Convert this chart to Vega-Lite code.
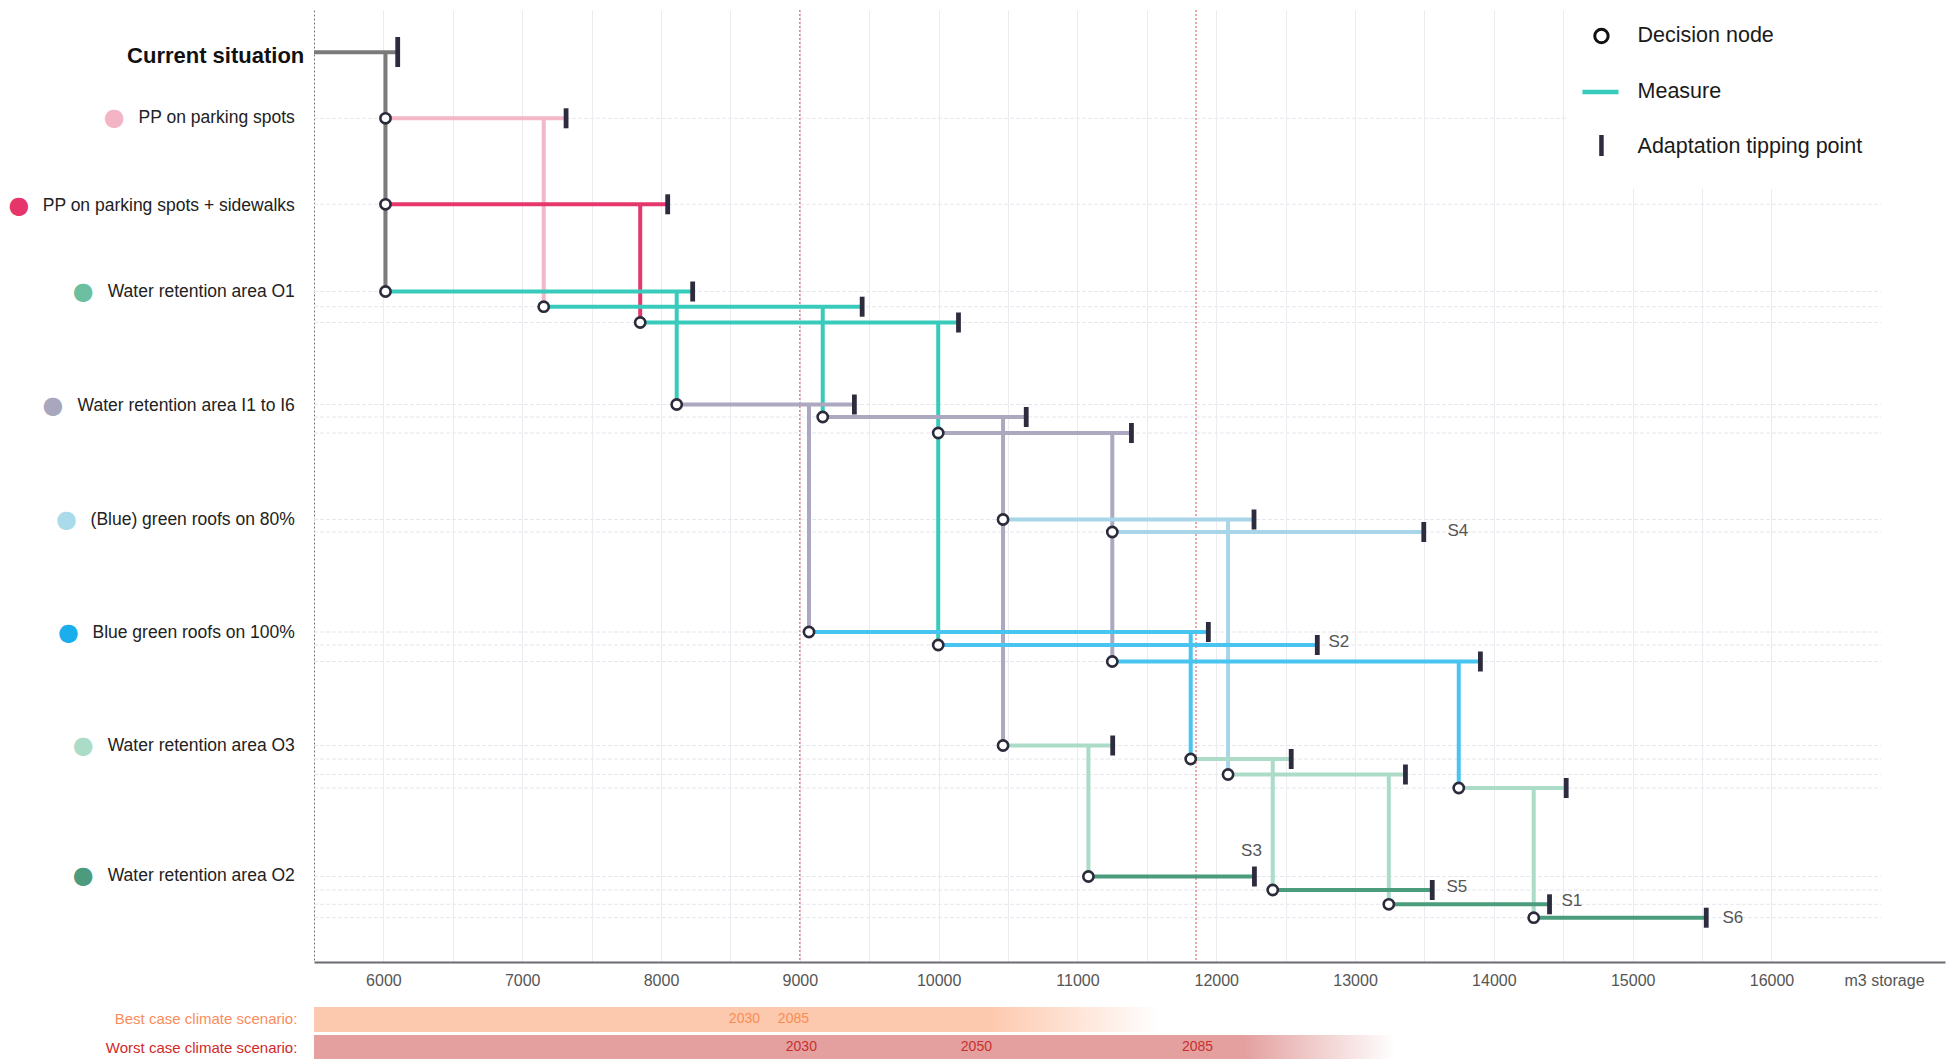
{
  "$schema": "https://vega.github.io/schema/vega-lite/v6.json",
  "width": 1631,
  "height": 952,
  "autosize": {"type": "none"},
  "padding": {"left": 314, "top": 10, "right": 6, "bottom": 97},
  "background": "white",
  "config": {"view": {"stroke": null}, "font": "Liberation Sans"},
  "resolve": {"axis": {"x": "independent", "y": "independent"}},
  "datasets": {
    "gridrows": [
      {"y": 118.3}, {"y": 204.3}, {"y": 291.5}, {"y": 306.7}, {"y": 322.5},
      {"y": 404.5}, {"y": 417}, {"y": 433}, {"y": 519.5}, {"y": 532},
      {"y": 632}, {"y": 645}, {"y": 661.5}, {"y": 745.5}, {"y": 759},
      {"y": 774.5}, {"y": 788}, {"y": 876.5}, {"y": 890}, {"y": 904.3}, {"y": 917.7}
    ],
    "segments": [
      {"k": "cur", "x": 6015, "x2": 6015, "y": 52.3, "y2": 291.5},
      {"k": "pp", "x": 7155, "x2": 7155, "y": 118.3, "y2": 306.7},
      {"k": "ppsw", "x": 7850, "x2": 7850, "y": 204.3, "y2": 322.5},
      {"k": "o1", "x": 8113, "x2": 8113, "y": 291.5, "y2": 404.5},
      {"k": "o1", "x": 9165, "x2": 9165, "y": 306.7, "y2": 417},
      {"k": "o1", "x": 9997, "x2": 9997, "y": 322.5, "y2": 645},
      {"k": "i", "x": 9066, "x2": 9066, "y": 404.5, "y2": 632},
      {"k": "i", "x": 10464, "x2": 10464, "y": 417, "y2": 745.5},
      {"k": "i", "x": 11251, "x2": 11251, "y": 433, "y2": 661.5},
      {"k": "b80", "x": 12085, "x2": 12085, "y": 519.5, "y2": 774.5},
      {"k": "b100", "x": 11816, "x2": 11816, "y": 632, "y2": 759},
      {"k": "b100", "x": 13747, "x2": 13747, "y": 661.5, "y2": 788},
      {"k": "o3", "x": 11079, "x2": 11079, "y": 745.5, "y2": 876.5},
      {"k": "o3", "x": 12407, "x2": 12407, "y": 759, "y2": 890},
      {"k": "o3", "x": 13243, "x2": 13243, "y": 774.5, "y2": 904.3},
      {"k": "o3", "x": 14287, "x2": 14287, "y": 788, "y2": 917.7},
      {"k": "cur", "x": 5500, "x2": 6103, "y": 52.3, "y2": 52.3},
      {"k": "pp", "x": 6015, "x2": 7316, "y": 118.3, "y2": 118.3},
      {"k": "ppsw", "x": 6015, "x2": 8048, "y": 204.3, "y2": 204.3},
      {"k": "o1", "x": 6015, "x2": 8228, "y": 291.5, "y2": 291.5},
      {"k": "o1", "x": 7155, "x2": 9449, "y": 306.7, "y2": 306.7},
      {"k": "o1", "x": 7850, "x2": 10143, "y": 322.5, "y2": 322.5},
      {"k": "i", "x": 8113, "x2": 9393, "y": 404.5, "y2": 404.5},
      {"k": "i", "x": 9165, "x2": 10631, "y": 417, "y2": 417},
      {"k": "i", "x": 9997, "x2": 11389, "y": 433, "y2": 433},
      {"k": "b80", "x": 10464, "x2": 12272, "y": 519.5, "y2": 519.5},
      {"k": "b80", "x": 11251, "x2": 13495, "y": 532, "y2": 532},
      {"k": "b100", "x": 9066, "x2": 11943, "y": 632, "y2": 632},
      {"k": "b100", "x": 9997, "x2": 12728, "y": 645, "y2": 645},
      {"k": "b100", "x": 11251, "x2": 13903, "y": 661.5, "y2": 661.5},
      {"k": "o3", "x": 10464, "x2": 11254, "y": 745.5, "y2": 745.5},
      {"k": "o3", "x": 11816, "x2": 12540, "y": 759, "y2": 759},
      {"k": "o3", "x": 12085, "x2": 13363, "y": 774.5, "y2": 774.5},
      {"k": "o3", "x": 13747, "x2": 14521, "y": 788, "y2": 788},
      {"k": "o2", "x": 11079, "x2": 12275, "y": 876.5, "y2": 876.5},
      {"k": "o2", "x": 12407, "x2": 13556, "y": 890, "y2": 890},
      {"k": "o2", "x": 13243, "x2": 14401, "y": 904.3, "y2": 904.3},
      {"k": "o2", "x": 14287, "x2": 15530, "y": 917.7, "y2": 917.7}
    ],
    "tips": [
      {"x": 7316, "y": 118.3}, {"x": 8048, "y": 204.3}, {"x": 8228, "y": 291.5},
      {"x": 9449, "y": 306.7}, {"x": 10143, "y": 322.5}, {"x": 9393, "y": 404.5},
      {"x": 10631, "y": 417}, {"x": 11389, "y": 433}, {"x": 12272, "y": 519.5},
      {"x": 13495, "y": 532}, {"x": 11943, "y": 632}, {"x": 12728, "y": 645},
      {"x": 13903, "y": 661.5}, {"x": 11254, "y": 745.5}, {"x": 12540, "y": 759},
      {"x": 13363, "y": 774.5}, {"x": 14521, "y": 788}, {"x": 12275, "y": 876.5},
      {"x": 13556, "y": 890}, {"x": 14401, "y": 904.3}, {"x": 15530, "y": 917.7}
    ],
    "nodes": [
      {"x": 6015, "y": 118.3}, {"x": 6015, "y": 204.3}, {"x": 6015, "y": 291.5},
      {"x": 7155, "y": 306.7}, {"x": 7850, "y": 322.5}, {"x": 8113, "y": 404.5},
      {"x": 9165, "y": 417}, {"x": 9997, "y": 433}, {"x": 10464, "y": 519.5},
      {"x": 11251, "y": 532}, {"x": 9066, "y": 632}, {"x": 9997, "y": 645},
      {"x": 11251, "y": 661.5}, {"x": 10464, "y": 745.5}, {"x": 11816, "y": 759},
      {"x": 12085, "y": 774.5}, {"x": 13747, "y": 788}, {"x": 11079, "y": 876.5},
      {"x": 12407, "y": 890}, {"x": 13243, "y": 904.3}, {"x": 14287, "y": 917.7}
    ],
    "labels": [
      {"k": "pp", "label": "PP on parking spots", "y": 118},
      {"k": "ppsw", "label": "PP on parking spots + sidewalks", "y": 205.5},
      {"k": "o1", "label": "Water retention area O1", "y": 292},
      {"k": "i", "label": "Water retention area I1 to I6", "y": 405.5},
      {"k": "b80", "label": "(Blue) green roofs on 80%", "y": 519.5},
      {"k": "b100", "label": "Blue green roofs on 100%", "y": 632.5},
      {"k": "o3", "label": "Water retention area O3", "y": 746},
      {"k": "o2", "label": "Water retention area O2", "y": 875.5}
    ],
    "slabels": [
      {"s": "S4", "x": 13666, "y": 531},
      {"s": "S2", "x": 12808, "y": 642},
      {"s": "S5", "x": 13658, "y": 887},
      {"s": "S1", "x": 14487, "y": 901},
      {"s": "S6", "x": 15647, "y": 918}
    ],
    "bestyears": [{"year": "2030", "x": 8601}, {"year": "2085", "x": 8954}],
    "worstyears": [{"year": "2030", "x": 9011}, {"year": "2050", "x": 10272}, {"year": "2085", "x": 11865}],
    "redlines": [{"x": 9000}, {"x": 11854}]
  },
  "layer": [
    {
      "data": {"name": "gridrows"},
      "mark": {"type": "rule", "color": "#e6e6ee", "strokeWidth": 1, "strokeDash": [4, 2]},
      "encoding": {
        "x": {"datum": 5500, "type": "quantitative", "axis": null, "scale": {"domain": [5500, 17250], "nice": false, "zero": false}},
        "x2": {"datum": 16790},
        "y": {"field": "y", "type": "quantitative", "axis": null, "scale": {"domain": [10, 962], "reverse": true, "nice": false, "zero": false}}
      }
    },
    {
      "data": {"values": [{}]},
      "mark": {"type": "rect", "fill": "white", "stroke": null},
      "encoding": {
        "x": {"datum": 14530, "type": "quantitative", "axis": null, "scale": {"domain": [5500, 17250], "nice": false, "zero": false}},
        "x2": {"datum": 17250},
        "y": {"datum": 10, "type": "quantitative", "axis": null, "scale": {"domain": [10, 962], "reverse": true, "nice": false, "zero": false}},
        "y2": {"datum": 189}
      }
    },
    {
      "data": {"name": "redlines"},
      "mark": {"type": "rule", "color": "#e24a4a", "strokeWidth": 1, "strokeDash": [2, 2]},
      "encoding": {
        "x": {"field": "x", "type": "quantitative", "axis": null, "scale": {"domain": [5500, 17250], "nice": false, "zero": false}},
        "y": {"datum": 10, "type": "quantitative", "axis": null, "scale": {"domain": [10, 962], "reverse": true, "nice": false, "zero": false}},
        "y2": {"datum": 962}
      }
    },
    {
      "data": {"name": "segments"},
      "mark": {"type": "rule", "strokeWidth": 4, "strokeCap": "butt"},
      "encoding": {
        "x": {"field": "x", "type": "quantitative", "title": null,
          "scale": {"domain": [5500, 17250], "nice": false, "zero": false},
          "axis": {"values": [6000, 6500, 7000, 7500, 8000, 8500, 9000, 9500, 10000, 10500, 11000, 11500, 12000, 12500, 13000, 13500, 14000, 14500, 15000, 15500, 16000],
            "format": "d", "labelExpr": "datum.value % 1000 === 0 ? datum.label : ''",
            "grid": true, "gridColor": "#ebebf1", "gridWidth": 1, "ticks": false,
            "domainColor": "#6a6a74", "domainWidth": 2, "labelFontSize": 16, "labelColor": "#555555",
            "labelPadding": 10, "labelOverlap": false, "labelFont": "Liberation Sans", "zindex": 0}},
        "x2": {"field": "x2"},
        "y": {"field": "y", "type": "quantitative", "title": null,
          "scale": {"domain": [10, 962], "reverse": true, "nice": false, "zero": false},
          "axis": {"grid": false, "ticks": false, "labels": false, "domainColor": "#777777", "domainDash": [2, 2], "domainWidth": 1, "zindex": 0}},
        "y2": {"field": "y2"},
        "color": {"field": "k", "type": "nominal", "legend": null,
          "scale": {"domain": ["cur", "pp", "ppsw", "o1", "i", "b80", "b100", "o3", "o2"],
            "range": ["#7b7b7b", "#f4b7c7", "#e5376c", "#38cbbb", "#aba8c0", "#a8d6e8", "#48c4f0", "#acdbc8", "#4b9c7d"]}}
      }
    },
    {
      "data": {"name": "tips"},
      "mark": {"type": "tick", "orient": "vertical", "size": 20, "thickness": 4.8, "color": "#2c2c3e", "opacity": 1},
      "encoding": {
        "x": {"field": "x", "type": "quantitative", "axis": null, "scale": {"domain": [5500, 17250], "nice": false, "zero": false}},
        "y": {"field": "y", "type": "quantitative", "axis": null, "scale": {"domain": [10, 962], "reverse": true, "nice": false, "zero": false}}
      }
    },
    {
      "data": {"values": [{}]},
      "mark": {"type": "tick", "orient": "vertical", "size": 30, "thickness": 4.8, "color": "#2c2c3e", "opacity": 1},
      "encoding": {
        "x": {"datum": 6103, "type": "quantitative", "axis": null, "scale": {"domain": [5500, 17250], "nice": false, "zero": false}},
        "y": {"datum": 52, "type": "quantitative", "axis": null, "scale": {"domain": [10, 962], "reverse": true, "nice": false, "zero": false}}
      }
    },
    {
      "data": {"name": "nodes"},
      "mark": {"type": "point", "shape": "circle", "filled": false, "fill": "white", "fillOpacity": 1, "stroke": "#2b2b3b", "strokeWidth": 2.6, "size": 105, "opacity": 1},
      "encoding": {
        "x": {"field": "x", "type": "quantitative", "axis": null, "scale": {"domain": [5500, 17250], "nice": false, "zero": false}},
        "y": {"field": "y", "type": "quantitative", "axis": null, "scale": {"domain": [10, 962], "reverse": true, "nice": false, "zero": false}}
      }
    },
    {
      "data": {"name": "labels"},
      "mark": {"type": "text", "align": "right", "baseline": "middle", "fontSize": 17.5, "color": "#222222", "font": "Liberation Sans"},
      "encoding": {
        "x": {"datum": 5362, "type": "quantitative", "axis": null, "scale": {"domain": [5500, 17250], "nice": false, "zero": false}},
        "y": {"field": "y", "type": "quantitative", "axis": null, "scale": {"domain": [10, 962], "reverse": true, "nice": false, "zero": false}},
        "text": {"field": "label"}
      }
    },
    {
      "data": {"name": "labels"},
      "mark": {"type": "text", "text": "●", "align": "center", "baseline": "middle", "fontSize": 24, "font": "DejaVu Sans",
        "dx": {"expr": "-(17.5 * (0.556*length(datum.label) - 0.334*(length(datum.label)-length(replace(datum.label,/[ilj]/g,''))) - 0.278*(length(datum.label)-length(replace(datum.label,/[ Itf]/g,''))) - 0.223*(length(datum.label)-length(replace(datum.label,/[r()]/g,''))) - 0.056*(length(datum.label)-length(replace(datum.label,/[kscvxyz]/g,''))) + 0.111*(length(datum.label)-length(replace(datum.label,/[PBES]/g,''))) + 0.166*(length(datum.label)-length(replace(datum.label,/[wCDHNRU]/g,''))) + 0.222*(length(datum.label)-length(replace(datum.label,/O/g,''))) + 0.277*(length(datum.label)-length(replace(datum.label,/m/g,''))) + 0.333*(length(datum.label)-length(replace(datum.label,/%/g,''))) + 0.388*(length(datum.label)-length(replace(datum.label,/W/g,'')))) + 24)"}},
      "encoding": {
        "x": {"datum": 5362, "type": "quantitative", "axis": null, "scale": {"domain": [5500, 17250], "nice": false, "zero": false}},
        "y": {"field": "y", "type": "quantitative", "axis": null, "scale": {"domain": [10, 962], "reverse": true, "nice": false, "zero": false}},
        "fill": {"field": "k", "type": "nominal", "legend": null,
          "scale": {"domain": ["pp", "ppsw", "o1", "i", "b80", "b100", "o3", "o2"],
            "range": ["#f3b5c6", "#e5356b", "#6cc0a1", "#a9a7bd", "#a9dbea", "#1aafec", "#abdcc8", "#4d9b7d"]}}
      }
    },
    {
      "data": {"values": [{}]},
      "mark": {"type": "text", "text": "Current situation", "align": "right", "baseline": "middle", "fontSize": 22, "fontWeight": "bold", "color": "#111111", "font": "Liberation Sans"},
      "encoding": {
        "x": {"datum": 5430, "type": "quantitative", "axis": null, "scale": {"domain": [5500, 17250], "nice": false, "zero": false}},
        "y": {"datum": 56, "type": "quantitative", "axis": null, "scale": {"domain": [10, 962], "reverse": true, "nice": false, "zero": false}}
      }
    },
    {
      "data": {"name": "slabels"},
      "mark": {"type": "text", "align": "left", "baseline": "middle", "fontSize": 17, "color": "#555555", "font": "Liberation Sans"},
      "encoding": {
        "x": {"field": "x", "type": "quantitative", "axis": null, "scale": {"domain": [5500, 17250], "nice": false, "zero": false}},
        "y": {"field": "y", "type": "quantitative", "axis": null, "scale": {"domain": [10, 962], "reverse": true, "nice": false, "zero": false}},
        "text": {"field": "s"}
      }
    },
    {
      "data": {"values": [{}]},
      "mark": {"type": "text", "text": "S3", "align": "center", "baseline": "middle", "fontSize": 17, "color": "#555555", "font": "Liberation Sans"},
      "encoding": {
        "x": {"datum": 12254, "type": "quantitative", "axis": null, "scale": {"domain": [5500, 17250], "nice": false, "zero": false}},
        "y": {"datum": 851, "type": "quantitative", "axis": null, "scale": {"domain": [10, 962], "reverse": true, "nice": false, "zero": false}}
      }
    },
    {
      "data": {"values": [{}]},
      "mark": {"type": "text", "text": "m3 storage", "align": "left", "baseline": "middle", "fontSize": 16, "color": "#555555", "font": "Liberation Sans"},
      "encoding": {
        "x": {"datum": 16526, "type": "quantitative", "axis": null, "scale": {"domain": [5500, 17250], "nice": false, "zero": false}},
        "y": {"datum": 981, "type": "quantitative", "axis": null, "scale": {"domain": [10, 962], "reverse": true, "nice": false, "zero": false}}
      }
    },
    {
      "data": {"values": [{}]},
      "mark": {"type": "rect", "stroke": null,
        "fill": {"gradient": "linear", "x1": 0, "x2": 1, "y1": 0, "y2": 0,
          "stops": [{"offset": 0, "color": "#fdc9ae"}, {"offset": 0.8, "color": "#fdc9ae"}, {"offset": 1, "color": "#ffffff"}]}},
      "encoding": {
        "x": {"datum": 5500, "type": "quantitative", "axis": null, "scale": {"domain": [5500, 17250], "nice": false, "zero": false}},
        "x2": {"datum": 11598},
        "y": {"datum": 1007, "type": "quantitative", "axis": null, "scale": {"domain": [10, 962], "reverse": true, "nice": false, "zero": false}},
        "y2": {"datum": 1032}
      }
    },
    {
      "data": {"values": [{}]},
      "mark": {"type": "rect", "stroke": null,
        "fill": {"gradient": "linear", "x1": 0, "x2": 1, "y1": 0, "y2": 0,
          "stops": [{"offset": 0, "color": "#e3a09f"}, {"offset": 0.86, "color": "#e3a09f"}, {"offset": 1, "color": "#ffffff"}]}},
      "encoding": {
        "x": {"datum": 5500, "type": "quantitative", "axis": null, "scale": {"domain": [5500, 17250], "nice": false, "zero": false}},
        "x2": {"datum": 13291},
        "y": {"datum": 1035, "type": "quantitative", "axis": null, "scale": {"domain": [10, 962], "reverse": true, "nice": false, "zero": false}},
        "y2": {"datum": 1059}
      }
    },
    {
      "data": {"name": "bestyears"},
      "mark": {"type": "text", "align": "center", "baseline": "middle", "fontSize": 14, "color": "#f98c55", "font": "Liberation Sans"},
      "encoding": {
        "x": {"field": "x", "type": "quantitative", "axis": null, "scale": {"domain": [5500, 17250], "nice": false, "zero": false}},
        "y": {"datum": 1019, "type": "quantitative", "axis": null, "scale": {"domain": [10, 962], "reverse": true, "nice": false, "zero": false}},
        "text": {"field": "year"}
      }
    },
    {
      "data": {"name": "worstyears"},
      "mark": {"type": "text", "align": "center", "baseline": "middle", "fontSize": 14, "color": "#c8302f", "font": "Liberation Sans"},
      "encoding": {
        "x": {"field": "x", "type": "quantitative", "axis": null, "scale": {"domain": [5500, 17250], "nice": false, "zero": false}},
        "y": {"datum": 1047, "type": "quantitative", "axis": null, "scale": {"domain": [10, 962], "reverse": true, "nice": false, "zero": false}},
        "text": {"field": "year"}
      }
    },
    {
      "data": {"values": [{}]},
      "mark": {"type": "text", "text": "Best case climate scenario:", "align": "right", "baseline": "middle", "fontSize": 15, "color": "#fa8c5c", "font": "Liberation Sans"},
      "encoding": {
        "x": {"datum": 5380, "type": "quantitative", "axis": null, "scale": {"domain": [5500, 17250], "nice": false, "zero": false}},
        "y": {"datum": 1019, "type": "quantitative", "axis": null, "scale": {"domain": [10, 962], "reverse": true, "nice": false, "zero": false}}
      }
    },
    {
      "data": {"values": [{}]},
      "mark": {"type": "text", "text": "Worst case climate scenario:", "align": "right", "baseline": "middle", "fontSize": 15, "color": "#d02a2a", "font": "Liberation Sans"},
      "encoding": {
        "x": {"datum": 5380, "type": "quantitative", "axis": null, "scale": {"domain": [5500, 17250], "nice": false, "zero": false}},
        "y": {"datum": 1048, "type": "quantitative", "axis": null, "scale": {"domain": [10, 962], "reverse": true, "nice": false, "zero": false}}
      }
    },
    {
      "data": {"values": [{}]},
      "mark": {"type": "point", "shape": "circle", "filled": false, "fill": "white", "fillOpacity": 1, "stroke": "#111111", "strokeWidth": 3, "size": 180, "opacity": 1},
      "encoding": {
        "x": {"datum": 14775, "type": "quantitative", "axis": null, "scale": {"domain": [5500, 17250], "nice": false, "zero": false}},
        "y": {"datum": 36, "type": "quantitative", "axis": null, "scale": {"domain": [10, 962], "reverse": true, "nice": false, "zero": false}}
      }
    },
    {
      "data": {"values": [{}]},
      "mark": {"type": "rule", "color": "#38cbbb", "strokeWidth": 4.5},
      "encoding": {
        "x": {"datum": 14638, "type": "quantitative", "axis": null, "scale": {"domain": [5500, 17250], "nice": false, "zero": false}},
        "x2": {"datum": 14898},
        "y": {"datum": 92, "type": "quantitative", "axis": null, "scale": {"domain": [10, 962], "reverse": true, "nice": false, "zero": false}}
      }
    },
    {
      "data": {"values": [{}]},
      "mark": {"type": "tick", "orient": "vertical", "size": 21, "thickness": 4.5, "color": "#2c2c3e", "opacity": 1},
      "encoding": {
        "x": {"datum": 14775, "type": "quantitative", "axis": null, "scale": {"domain": [5500, 17250], "nice": false, "zero": false}},
        "y": {"datum": 145.5, "type": "quantitative", "axis": null, "scale": {"domain": [10, 962], "reverse": true, "nice": false, "zero": false}}
      }
    },
    {
      "data": {"values": [{}]},
      "mark": {"type": "text", "text": "Decision node", "align": "left", "baseline": "middle", "fontSize": 21.5, "color": "#1a1a1a", "font": "Liberation Sans"},
      "encoding": {
        "x": {"datum": 15035, "type": "quantitative", "axis": null, "scale": {"domain": [5500, 17250], "nice": false, "zero": false}},
        "y": {"datum": 36, "type": "quantitative", "axis": null, "scale": {"domain": [10, 962], "reverse": true, "nice": false, "zero": false}}
      }
    },
    {
      "data": {"values": [{}]},
      "mark": {"type": "text", "text": "Measure", "align": "left", "baseline": "middle", "fontSize": 21.5, "color": "#1a1a1a", "font": "Liberation Sans"},
      "encoding": {
        "x": {"datum": 15035, "type": "quantitative", "axis": null, "scale": {"domain": [5500, 17250], "nice": false, "zero": false}},
        "y": {"datum": 92, "type": "quantitative", "axis": null, "scale": {"domain": [10, 962], "reverse": true, "nice": false, "zero": false}}
      }
    },
    {
      "data": {"values": [{}]},
      "mark": {"type": "text", "text": "Adaptation tipping point", "align": "left", "baseline": "middle", "fontSize": 21.5, "color": "#1a1a1a", "font": "Liberation Sans"},
      "encoding": {
        "x": {"datum": 15035, "type": "quantitative", "axis": null, "scale": {"domain": [5500, 17250], "nice": false, "zero": false}},
        "y": {"datum": 147, "type": "quantitative", "axis": null, "scale": {"domain": [10, 962], "reverse": true, "nice": false, "zero": false}}
      }
    }
  ]
}
